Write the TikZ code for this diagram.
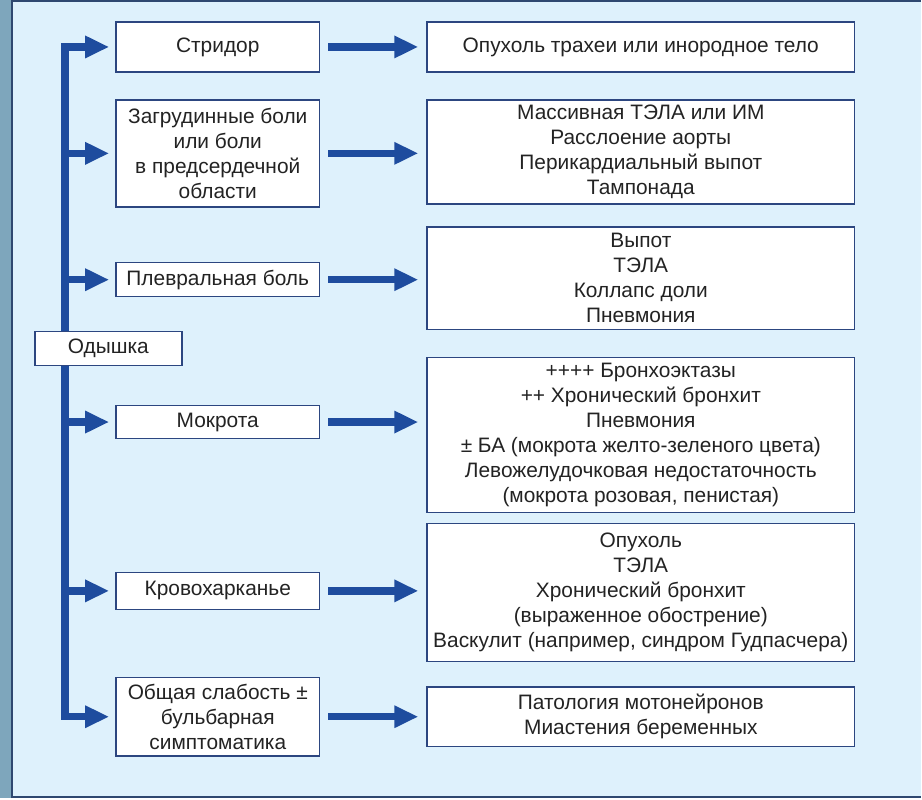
\documentclass[tikz,border=0pt]{standalone}
\usepackage{fontspec}
\setmainfont{Liberation Sans}
\usepackage{tikz}
\usetikzlibrary{positioning,calc,arrows.meta,backgrounds}
\pgfdeclarelayer{subbackground}
\pgfdeclarelayer{background}
\pgfsetlayers{subbackground,background,main}
\definecolor{panelblue}{RGB}{222,241,252}
\definecolor{stripgray}{RGB}{126,166,188}
\definecolor{framedark}{RGB}{46,72,112}
\definecolor{arrowblue}{RGB}{30,76,158}
\definecolor{boxedge}{RGB}{44,70,128}
\definecolor{textgray}{RGB}{35,35,35}
\tikzstyle{symptom} = [rectangle, draw=boxedge, line width=1.5pt, fill=white, text=textgray, align=center, inner sep=2pt, minimum width=204pt, font=\fontsize{20.9}{25}\selectfont]
\tikzstyle{cause} = [symptom, minimum width=428pt]
\tikzstyle{arrow} = [line width=7.5pt, draw=arrowblue, -{Triangle[length=24pt,width=21pt]}]

\begin{document}
\begin{tikzpicture}[x=1pt,y=1pt]
        % Frame ------------------------------------------------------------------------------------
        \begin{pgfonlayer}{subbackground}
            \fill[panelblue] (12,0) rectangle (922,-799);
            \fill[stripgray] (0,0) rectangle (11,-799);
            \draw[framedark, line width=2pt] (12,-799) -- (12,-1) -- (922,-1);
            \draw[framedark, line width=2pt] (12,-798) -- (922,-798);
        \end{pgfonlayer}
        \useasboundingbox (0,0) rectangle (922,-799);
        % Symptoms ---------------------------------------------------------------------------------
        \node[symptom, minimum height=50pt](sym_stridor) at (218,-47){Стридор};
        \node[symptom, minimum height=107pt](sym_chest) at (218,-153.5){Загрудинные боли\\или боли\\в предсердечной\\области};
        \node[symptom, minimum height=34pt](sym_pleural) at (218,-280){Плевральная боль};
        \node[symptom, minimum width=147pt, minimum height=34pt](dyspnea) at (108.5,-349){Одышка};
        \node[symptom, minimum height=33pt](sym_sputum) at (218,-422.5){Мокрота};
        \node[symptom, minimum height=37pt](sym_haemo) at (218,-591.5){Кровохарканье};
        \node[symptom, minimum height=79pt](sym_weak) at (218,-717.5){Общая слабость ±\\бульбарная\\симптоматика};
        % Causes -----------------------------------------------------------------------------------
        \node[cause, minimum height=50pt, right=106pt of sym_stridor](cause_stridor){Опухоль трахеи или инородное тело};
        \node[cause, minimum height=104pt, right=106pt of sym_chest, yshift=1.5pt](cause_chest){Массивная ТЭЛА или ИМ\\Расслоение аорты\\Перикардиальный выпот\\Тампонада};
        \node[cause, minimum height=103pt, right=106pt of sym_pleural, yshift=1.5pt](cause_pleural){Выпот\\ТЭЛА\\Коллапс доли\\Пневмония};
        \node[cause, minimum height=155pt, right=106pt of sym_sputum, yshift=-13pt](cause_sputum){++++ Бронхоэктазы\\++ Хронический бронхит\\Пневмония\\± БА (мокрота желто-зеленого цвета)\\Левожелудочковая недостаточность\\(мокрота розовая, пенистая)};
        \node[cause, minimum height=138pt, right=106pt of sym_haemo, yshift=-1.5pt](cause_haemo){Опухоль\\ТЭЛА\\Хронический бронхит\\(выраженное обострение)\\Васкулит (например, синдром Гудпасчера)};
        \node[cause, minimum height=60pt, right=106pt of sym_weak](cause_weak){Патология мотонейронов\\Миастения беременных};
        % Trunk ------------------------------------------------------------------------------------
        \coordinate (trunk) at (65,-349);
        \begin{pgfonlayer}{background}
            \draw[arrow, {Triangle[length=24pt,width=21pt]}-{Triangle[length=24pt,width=21pt]}, shorten <=6pt, shorten >=6pt] (sym_stridor.west) -| (trunk) |- (sym_weak.west);
        \end{pgfonlayer}
        \foreach \sym in {sym_chest,sym_pleural,sym_sputum,sym_haemo}
            \draw[arrow, shorten >=6pt] (trunk |- \sym.west) -- (\sym.west);
        % Arrows -----------------------------------------------------------------------------------
        \foreach \sym/\cause in {sym_stridor/cause_stridor,sym_chest/cause_chest,sym_pleural/cause_pleural,sym_sputum/cause_sputum,sym_haemo/cause_haemo,sym_weak/cause_weak}
            \draw[arrow, shorten <=8pt, shorten >=8pt] (\sym.east) -- (\sym.east -| \cause.west);
    \end{tikzpicture}
\end{document}
